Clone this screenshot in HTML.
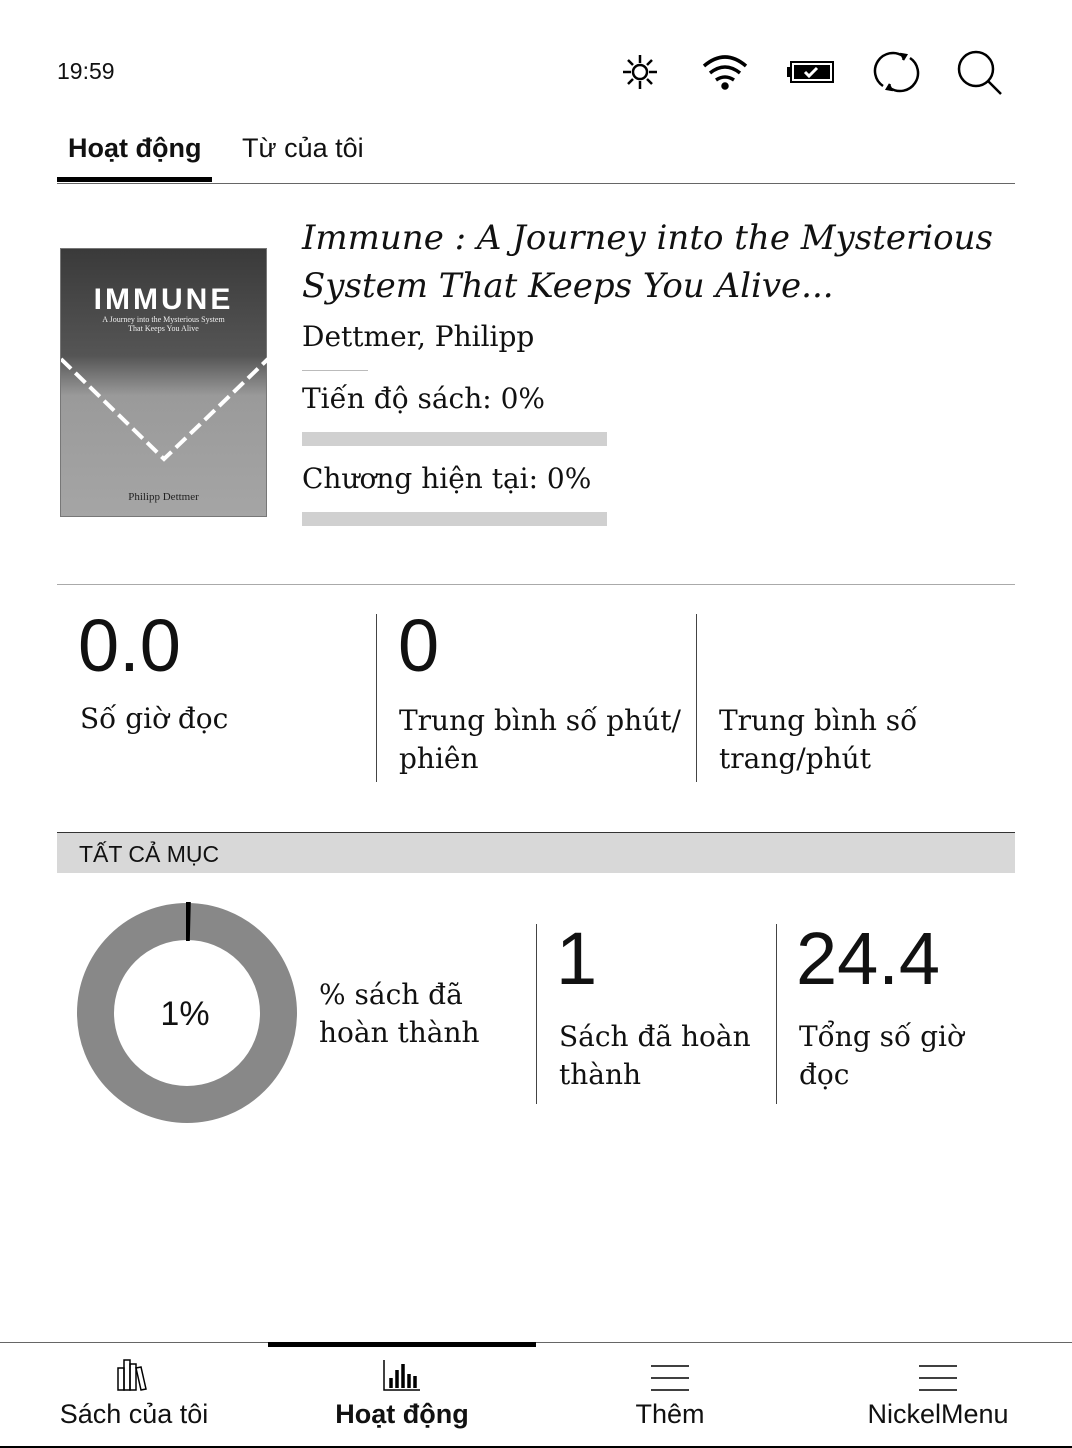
<!DOCTYPE html>
<html><head><meta charset="utf-8"><style>
body{margin:0;width:1072px;height:1448px;background:#fff;position:relative;overflow:hidden;font-family:"Liberation Sans",sans-serif;color:#111}
.a{position:absolute}
.serif{font-family:"DejaVu Serif","Liberation Serif",serif}
.vl{position:absolute;width:1px;background:#444}
</style></head><body>
<div class="a" style="left:57px;top:58px;font-size:23px">19:59</div>
<svg class="a" style="left:600px;top:40px" width="420" height="70" viewBox="0 0 420 70">
 <g stroke="#000" stroke-width="2.5" fill="none"><circle cx="40" cy="32" r="7"/>
 <path d="M40 15v8M40 41v8M23 32h8M49 32h8M28 20l5 5M47 39l5 5M52 20l-5 5M33 39l-5 5"/></g>
 <g fill="none" stroke="#000" stroke-width="3.5"><path d="M104 26q21-18 42 0M110 33q15-12 30 0M116 40q9-6 18 0"/><circle cx="125" cy="46" r="2" fill="#000"/></g>
 <g><rect x="191" y="22" width="42" height="20" fill="none" stroke="#000" stroke-width="2"/><rect x="187" y="27" width="4" height="10" fill="#000"/><rect x="194" y="25" width="36" height="14" fill="#000"/><path d="M205 32l4 4 8-8" stroke="#fff" stroke-width="3" fill="none"/></g>
 <g fill="none" stroke="#000" stroke-width="2.5"><path d="M283 46a16 16 0 0 1 20-30M310 18a16 16 0 0 1-20 30"/><path d="M300 14l6 1-3 5M293 50l-6-1 3-5" fill="#000"/></g>
 <g fill="none" stroke="#000" stroke-width="2.5"><circle cx="376" cy="29" r="17"/><path d="M388 41l13 13"/></g>
</svg>
<div class="a" style="left:68px;top:133px;font-size:27px;font-weight:bold">Hoạt động</div>
<div class="a" style="left:57px;top:177px;width:155px;height:5px;background:#000"></div>
<div class="a" style="left:242px;top:133px;font-size:27px">Từ của tôi</div>
<div class="a" style="left:57px;top:183px;width:958px;height:1px;background:#666"></div>

<div class="a" style="left:60px;top:248px;width:207px;height:269px;background:linear-gradient(#3a3a3a 0%,#555 40%,#9a9a9a 55%,#a5a5a5 100%);border:1px solid #777;box-sizing:border-box">
 <div style="position:absolute;left:0;right:0;top:34px;text-align:center;color:#fff;font-size:30px;letter-spacing:3px;font-weight:bold">IMMUNE</div>
 <div style="position:absolute;left:0;right:0;top:66px;text-align:center;color:#eee;font-size:8px;font-family:'Liberation Serif',serif">A Journey into the Mysterious System<br>That Keeps You Alive</div>
 <svg style="position:absolute;left:0;top:90px" width="207" height="130"><path d="M0 20 L103 120 L207 20" stroke="#fff" stroke-width="4" fill="none" stroke-dasharray="14 6"/></svg>
 <div style="position:absolute;left:0;right:0;top:242px;text-align:center;color:#222;font-size:11px;font-family:'Liberation Serif',serif">Philipp Dettmer</div>
</div>
<div class="a serif" style="left:302px;top:214px;font-size:34px;font-style:italic;line-height:48px;width:740px">Immune : A Journey into the Mysterious System That Keeps You Alive...</div>
<div class="a serif" style="left:302px;top:320px;font-size:28px">Dettmer, Philipp</div>
<div class="a" style="left:302px;top:370px;width:66px;height:1px;background:#bbb"></div>
<div class="a serif" style="left:302px;top:382px;font-size:28px">Tiến độ sách: 0%</div>
<div class="a" style="left:302px;top:432px;width:305px;height:14px;background:#d0d0d0"></div>
<div class="a serif" style="left:302px;top:462px;font-size:28px">Chương hiện tại: 0%</div>
<div class="a" style="left:302px;top:512px;width:305px;height:14px;background:#d0d0d0"></div>
<div class="a" style="left:57px;top:584px;width:958px;height:1px;background:#aaa"></div>

<div class="a" style="left:78px;top:603px;font-size:74px">0.0</div>
<div class="a serif" style="left:80px;top:702px;font-size:28px">Số giờ đọc</div>
<div class="vl" style="left:376px;top:614px;height:168px"></div>
<div class="a" style="left:398px;top:603px;font-size:74px">0</div>
<div class="a serif" style="left:399px;top:702px;font-size:28px;line-height:38px;white-space:nowrap">Trung bình số phút/<br>phiên</div>
<div class="vl" style="left:696px;top:614px;height:168px"></div>
<div class="a serif" style="left:719px;top:702px;font-size:28px;line-height:38px">Trung bình số<br>trang/phút</div>

<div class="a" style="left:57px;top:832px;width:958px;height:41px;background:#d8d8d8;border-top:1px solid #333;box-sizing:border-box"><span style="position:absolute;left:22px;top:8px;font-size:23px">TẤT CẢ MỤC</span></div>

<svg class="a" id="donut" style="left:70px;top:896px" width="234" height="234"></svg>
<div class="a" style="left:135px;top:995px;width:100px;text-align:center;font-size:34px" id="dlabel">1%</div>
<div class="a serif" style="left:319px;top:976px;font-size:28px;line-height:38px">% sách đã<br>hoàn thành</div>
<div class="vl" style="left:536px;top:924px;height:180px"></div>
<div class="a" style="left:556px;top:916px;font-size:74px">1</div>
<div class="a serif" style="left:559px;top:1018px;font-size:28px;line-height:38px">Sách đã hoàn<br>thành</div>
<div class="vl" style="left:776px;top:924px;height:180px"></div>
<div class="a" style="left:796px;top:916px;font-size:74px">24.4</div>
<div class="a serif" style="left:799px;top:1018px;font-size:28px;line-height:38px">Tổng số giờ<br>đọc</div>

<div class="a" style="left:0;top:1342px;width:1072px;height:1px;background:#666"></div>
<div class="a" style="left:268px;top:1342px;width:268px;height:5px;background:#000"></div>
<div class="a" style="left:0;top:1446px;width:1072px;height:2px;background:#000"></div>
<div class="a" style="left:0;top:1356px;width:268px;text-align:center">
 <svg width="40" height="36" viewBox="0 0 40 36"><g fill="none" stroke="#000" stroke-width="1.5"><rect x="4" y="12" width="6" height="22"/><rect x="10" y="4" width="6" height="30"/><rect x="16" y="8" width="6" height="26"/><path d="M22 12l5-1 5 22-5 1z"/></g></svg>
 <div style="font-size:27px;margin-top:2px">Sách của tôi</div></div>
<div class="a" style="left:268px;top:1356px;width:268px;text-align:center">
 <svg width="40" height="36" viewBox="0 0 40 36"><g stroke="#000" fill="none"><path d="M2 4v30h36" stroke-width="1.5"/><path d="M9 22v10M15 14v18M21 8v24M27 18v14M33 20v12" stroke-width="3.5"/></g></svg>
 <div style="font-size:27px;font-weight:bold;margin-top:2px">Hoạt động</div></div>
<div class="a" style="left:536px;top:1356px;width:268px;text-align:center">
 <svg width="40" height="36" viewBox="0 0 40 36"><path d="M1 10h38M1 22h38M1 34h38" stroke="#000" stroke-width="1.5"/></svg>
 <div style="font-size:27px;margin-top:2px">Thêm</div></div>
<div class="a" style="left:804px;top:1356px;width:268px;text-align:center">
 <svg width="40" height="36" viewBox="0 0 40 36"><path d="M1 10h38M1 22h38M1 34h38" stroke="#000" stroke-width="1.5"/></svg>
 <div style="font-size:27px;margin-top:2px">NickelMenu</div></div>
<script>
const donutLabels = ["finished","remaining"];
const donutValues = [1, 99];
const svg = document.getElementById('donut');
const NS = 'http://www.w3.org/2000/svg';
const cx = 117, cy = 117, rOut = 110, rIn = 73;
const total = donutValues.reduce((a,b)=>a+b,0);
function pt(r, frac){const a = frac*2*Math.PI - Math.PI/2; return [cx + r*Math.cos(a), cy + r*Math.sin(a)];}
const bg = document.createElementNS(NS,'circle');


bg.setAttribute('cx',cx);bg.setAttribute('cy',cy);bg.setAttribute('r',(rOut+rIn)/2);
bg.setAttribute('fill','none');bg.setAttribute('stroke','#888');bg.setAttribute('stroke-width',rOut-rIn);
svg.appendChild(bg);
let f0 = 0, f1 = donutValues[0]/total * 0.4;
const [x0,y0] = pt(rOut,f0), [x1,y1] = pt(rOut,f1), [x2,y2] = pt(rIn,f1), [x3,y3] = pt(rIn,f0);
const seg = document.createElementNS(NS,'path');


seg.setAttribute('d',`M${x0} ${y0} A${rOut} ${rOut} 0 0 1 ${x1} ${y1} L${x2} ${y2} A${rIn} ${rIn} 0 0 0 ${x3} ${y3}Z`);
seg.setAttribute('fill','#000');
seg.setAttribute('stroke','#000');seg.setAttribute('stroke-width','2');
svg.appendChild(seg);
document.getElementById('dlabel').textContent = Math.round(donutValues[0]/total*100) + '%';
</script>
</body></html>
